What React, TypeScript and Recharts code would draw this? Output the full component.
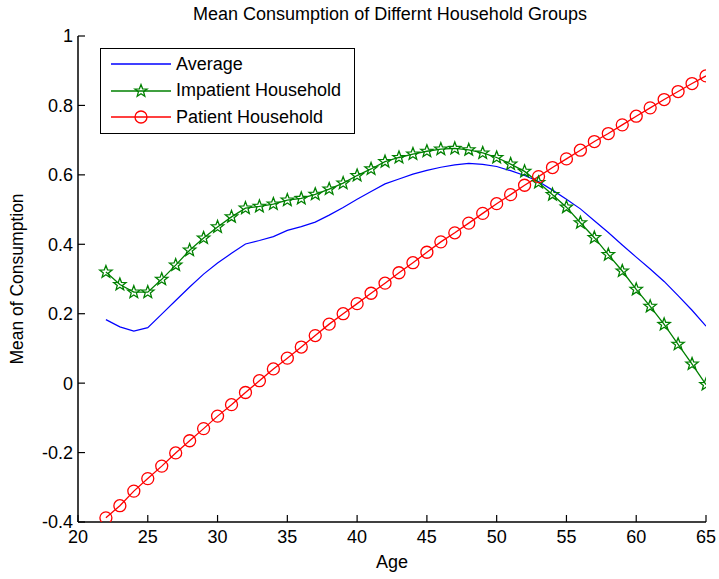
import React from 'react';
import { LineChart, Line, XAxis, YAxis, Legend } from 'recharts';

const FONT = "'Liberation Sans', Arial, Helvetica, sans-serif";

const title = 'Mean Consumption of Differnt Household Groups';
const xLabel = 'Age';
const yLabel = 'Mean of Consumption';

const ages = [22, 23, 24, 25, 26, 27, 28, 29, 30, 31, 32, 33, 34, 35, 36, 37, 38, 39, 40, 41, 42, 43, 44, 45, 46, 47, 48, 49, 50, 51, 52, 53, 54, 55, 56, 57, 58, 59, 60, 61, 62, 63, 64, 65];

const averageValues = [0.183, 0.162, 0.150, 0.160, 0.199, 0.238, 0.277, 0.314, 0.346, 0.374, 0.401, 0.411, 0.422, 0.440, 0.451, 0.464, 0.484, 0.506, 0.530, 0.552, 0.574, 0.588, 0.602, 0.613, 0.622, 0.629, 0.633, 0.630, 0.624, 0.612, 0.598, 0.581, 0.556, 0.530, 0.502, 0.468, 0.434, 0.398, 0.363, 0.329, 0.293, 0.252, 0.210, 0.164];

const impatientValues = [0.320, 0.284, 0.262, 0.262, 0.299, 0.340, 0.383, 0.418, 0.450, 0.479, 0.504, 0.509, 0.516, 0.527, 0.532, 0.544, 0.559, 0.576, 0.598, 0.617, 0.638, 0.650, 0.660, 0.668, 0.674, 0.676, 0.672, 0.663, 0.650, 0.631, 0.610, 0.578, 0.543, 0.507, 0.462, 0.419, 0.370, 0.323, 0.270, 0.221, 0.169, 0.112, 0.055, -0.004];

const patientValues = [-0.388, -0.353, -0.311, -0.275, -0.239, -0.201, -0.166, -0.131, -0.095, -0.062, -0.027, 0.007, 0.041, 0.072, 0.104, 0.137, 0.170, 0.200, 0.229, 0.259, 0.288, 0.318, 0.347, 0.377, 0.407, 0.433, 0.461, 0.489, 0.517, 0.543, 0.570, 0.595, 0.621, 0.646, 0.671, 0.696, 0.719, 0.744, 0.769, 0.793, 0.817, 0.840, 0.863, 0.885];

const xTicks = [20, 25, 30, 35, 40, 45, 50, 55, 60, 65];
const yTicks = [-0.4, -0.2, 0, 0.2, 0.4, 0.6, 0.8, 1];

const seriesNames = ['Average', 'Impatient Household', 'Patient Household'];
const seriesColors = ['#0000ff', '#008000', '#ff0000'];

const data = ages.map((age, i) => ({
  age,
  avg: averageValues[i],
  imp: impatientValues[i],
  pat: patientValues[i],
}));

const starPoints = (cx: number, cy: number, R: number) => {
  const r = R * 0.42;
  const pts: string[] = [];
  for (let k = 0; k < 10; k++) {
    const ang = -Math.PI / 2 + (k * Math.PI) / 5;
    const rad = k % 2 === 0 ? R : r;
    pts.push(`${cx + rad * Math.cos(ang)},${cy + rad * Math.sin(ang)}`);
  }
  return pts.join(' ');
};

const StarDot = (props: any) => {
  const { cx, cy, index } = props;
  if (cx == null || cy == null) return <g key={`s-${index}`} />;
  return (
    <polygon
      key={`s-${index}`}
      points={starPoints(cx, cy, 6.5)}
      fill="none"
      stroke={seriesColors[1]}
      strokeWidth={1.3}
    />
  );
};

const CircleDot = (props: any) => {
  const { cx, cy, index } = props;
  if (cx == null || cy == null) return <g key={`c-${index}`} />;
  return (
    <circle key={`c-${index}`} cx={cx} cy={cy} r={6} fill="none" stroke={seriesColors[2]} strokeWidth={1.3} />
  );
};

const renderLegend = (props: any) => {
  const payload = props.payload || [];
  return (
    <div
      style={{
        width: 255,
        height: 86,
        border: '1.5px solid #000',
        boxSizing: 'border-box',
        background: '#fff',
        paddingTop: 2,
      }}
    >
      {payload.map((entry: any, i: number) => {
        const color = entry.color;
        const key = entry.dataKey;
        return (
          <div key={`l-${i}`} style={{ display: 'flex', alignItems: 'center', height: 26.5 }}>
            <svg width={60} height={26} style={{ marginLeft: 10, display: 'block' }}>
              <line x1={0} y1={13} x2={60} y2={13} stroke={color} strokeWidth={1.3} />
              {key === 'imp' && (
                <polygon points={starPoints(30, 13, 6.5)} fill="none" stroke={color} strokeWidth={1.3} />
              )}
              {key === 'pat' && <circle cx={30} cy={13} r={6} fill="none" stroke={color} strokeWidth={1.3} />}
            </svg>
            <span style={{ marginLeft: 5, fontSize: 18, fontFamily: FONT, color: '#000', whiteSpace: 'nowrap' }}>
              {entry.value}
            </span>
          </div>
        );
      })}
    </div>
  );
};

const fmt = (v: number) => String(Number(v.toFixed(1)));

export default function App() {
  const axisLine = { stroke: '#000', strokeWidth: 1.5 };
  const tickLine = { stroke: '#000', strokeWidth: 1.2 };
  const tickStyle = { fill: '#000', fontSize: 18, fontFamily: FONT };
  return (
    <div style={{ position: 'absolute', left: 0, top: 0, width: 719, height: 579, background: '#fff' }}>
      <div
        style={{
          position: 'absolute',
          left: 0,
          top: 5,
          width: 780,
          textAlign: 'center',
          fontFamily: FONT,
          fontSize: 18,
          lineHeight: '18px',
          color: '#000',
          whiteSpace: 'nowrap',
          zIndex: 2,
        }}
      >
        {title}
      </div>
      <LineChart
        width={719}
        height={579}
        data={data}
        margin={{ top: 36, right: 13, bottom: 0, left: 0 }}
      >
        <XAxis
          dataKey="age"
          type="number"
          domain={[20, 65]}
          ticks={xTicks}
          interval={0}
          allowDataOverflow
          height={57}
          tickSize={-7}
          tickMargin={15}
          axisLine={axisLine}
          tickLine={tickLine}
          tick={tickStyle}
          label={{ value: xLabel, position: 'insideBottom', offset: 11, fill: '#000', fontSize: 18, fontFamily: FONT }}
        />
        <XAxis
          xAxisId="top"
          dataKey="age"
          type="number"
          orientation="top"
          domain={[20, 65]}
          ticks={xTicks}
          interval={0}
          allowDataOverflow
          height={0}
          tickSize={-7}
          axisLine={axisLine}
          tickLine={tickLine}
          tick={false}
        />
        <YAxis
          type="number"
          domain={[-0.4, 1]}
          ticks={yTicks}
          interval={0}
          allowDataOverflow
          width={78}
          tickSize={-7}
          tickMargin={12}
          tickFormatter={fmt}
          axisLine={axisLine}
          tickLine={tickLine}
          tick={tickStyle}
          label={{
            value: yLabel,
            angle: -90,
            position: 'insideLeft',
            offset: 17,
            fill: '#000',
            fontSize: 17.5,
            fontFamily: FONT,
            style: { textAnchor: 'middle' },
          }}
        />
        <YAxis
          yAxisId="right"
          orientation="right"
          type="number"
          domain={[-0.4, 1]}
          ticks={yTicks}
          interval={0}
          allowDataOverflow
          width={0}
          tickSize={-7}
          axisLine={axisLine}
          tickLine={tickLine}
          tick={false}
        />
        <Legend
          content={renderLegend}
          layout="horizontal"
          verticalAlign="middle"
          align="center"
          wrapperStyle={{ position: 'absolute', left: 100, top: 48, width: 255, height: 86 }}
        />
        <Line
          dataKey="avg"
          name={seriesNames[0]}
          stroke={seriesColors[0]}
          strokeWidth={1.2}
          dot={false}
          activeDot={false}
          isAnimationActive={false}
          type="linear"
        />
        <Line
          dataKey="imp"
          name={seriesNames[1]}
          stroke={seriesColors[1]}
          strokeWidth={1.3}
          dot={StarDot}
          activeDot={false}
          isAnimationActive={false}
          type="linear"
        />
        <Line
          dataKey="pat"
          name={seriesNames[2]}
          stroke={seriesColors[2]}
          strokeWidth={1.3}
          dot={CircleDot}
          activeDot={false}
          isAnimationActive={false}
          type="linear"
        />
      </LineChart>
    </div>
  );
}
